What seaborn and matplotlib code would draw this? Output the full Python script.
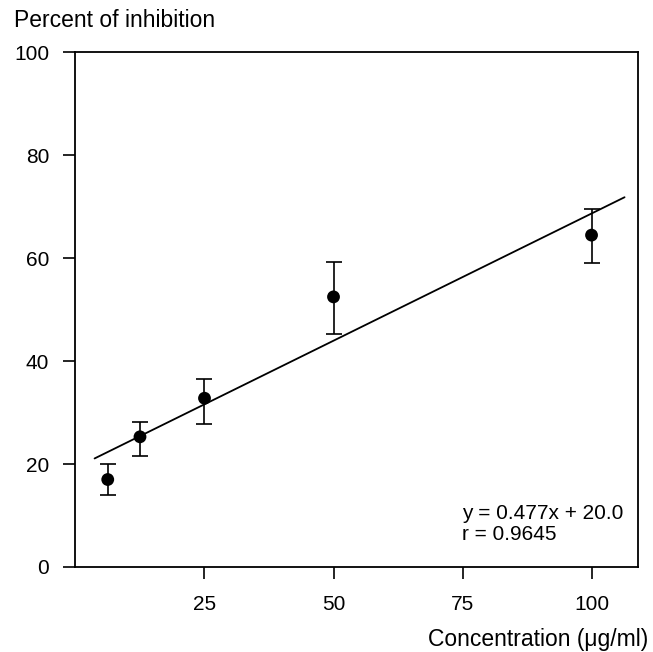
import numpy as np
import pandas as pd
import matplotlib
matplotlib.use("Agg")
import matplotlib.pyplot as plt
import seaborn as sns

# Data (mean +/- error bar ends)
concentration = [6.25, 12.5, 25, 50, 100]
inhibition = [17.0, 25.3, 32.8, 52.5, 64.5]
err_upper = [20.0, 28.2, 36.5, 59.3, 69.6]
err_lower = [14.0, 21.6, 27.8, 45.2, 59.0]
line_range = [3.7, 106.4]
x_ticks = [25, 50, 75, 100]
y_ticks = [0, 20, 40, 60, 80, 100]
equation_text = "y = 0.477x + 20.0"
r_text = "r = 0.9645"

df = pd.DataFrame({"conc": concentration, "inh": inhibition,
                   "hi": err_upper, "lo": err_lower})

# regression line through the means
slope, intercept = np.polyfit(df["conc"], df["inh"], 1)
fit = pd.DataFrame({"conc": line_range})
fit["inh"] = slope * fit["conc"] + intercept

sns.set_style("ticks")
plt.rcParams["font.family"] = ["Liberation Sans", "DejaVu Sans"]
plt.rcParams["text.color"] = "black"

fig = plt.figure(figsize=(6.53, 6.52), dpi=100)
ax = fig.add_axes([0.1156, 0.1304, 0.8614, 0.7891])

sns.lineplot(data=fit, x="conc", y="inh", ax=ax, color="black", linewidth=1.3)
ax.errorbar(df["conc"], df["inh"],
            yerr=[df["inh"] - df["lo"], df["hi"] - df["inh"]],
            fmt="none", ecolor="black", elinewidth=1.2, capsize=5.5, capthick=1.2)
sns.scatterplot(data=df, x="conc", y="inh", ax=ax, color="black", s=85,
                edgecolor="none", zorder=5)

ax.set_xlim(0, 109)
ax.set_ylim(0, 100)
ax.set_xticks(x_ticks)
ax.set_yticks(y_ticks)
ax.set_xlabel("")
ax.set_ylabel("")
for s in ax.spines.values():
    s.set_linewidth(1.3)
    s.set_color("black")
ax.tick_params(axis="both", direction="out", length=8.5, width=1.2,
               labelsize=15, colors="black")
ax.tick_params(axis="x", pad=11.5)
ax.tick_params(axis="y", pad=10.5)

ax.text(0.688, 0.0926, equation_text, transform=ax.transAxes,
        fontsize=15, va="baseline", ha="left", color="black")
ax.text(0.688, 0.0524, r_text, transform=ax.transAxes,
        fontsize=15, va="baseline", ha="left", color="black")

fig.text(14 / 653, 1 - 27 / 652, "Percent of inhibition", fontsize=16.5,
         va="baseline", ha="left", color="black")
fig.text(648 / 653, 1 - 646 / 652, "Concentration (μg/ml)", fontsize=16.5,
         va="baseline", ha="right", color="black")

fig.savefig("out.png", dpi=100)
